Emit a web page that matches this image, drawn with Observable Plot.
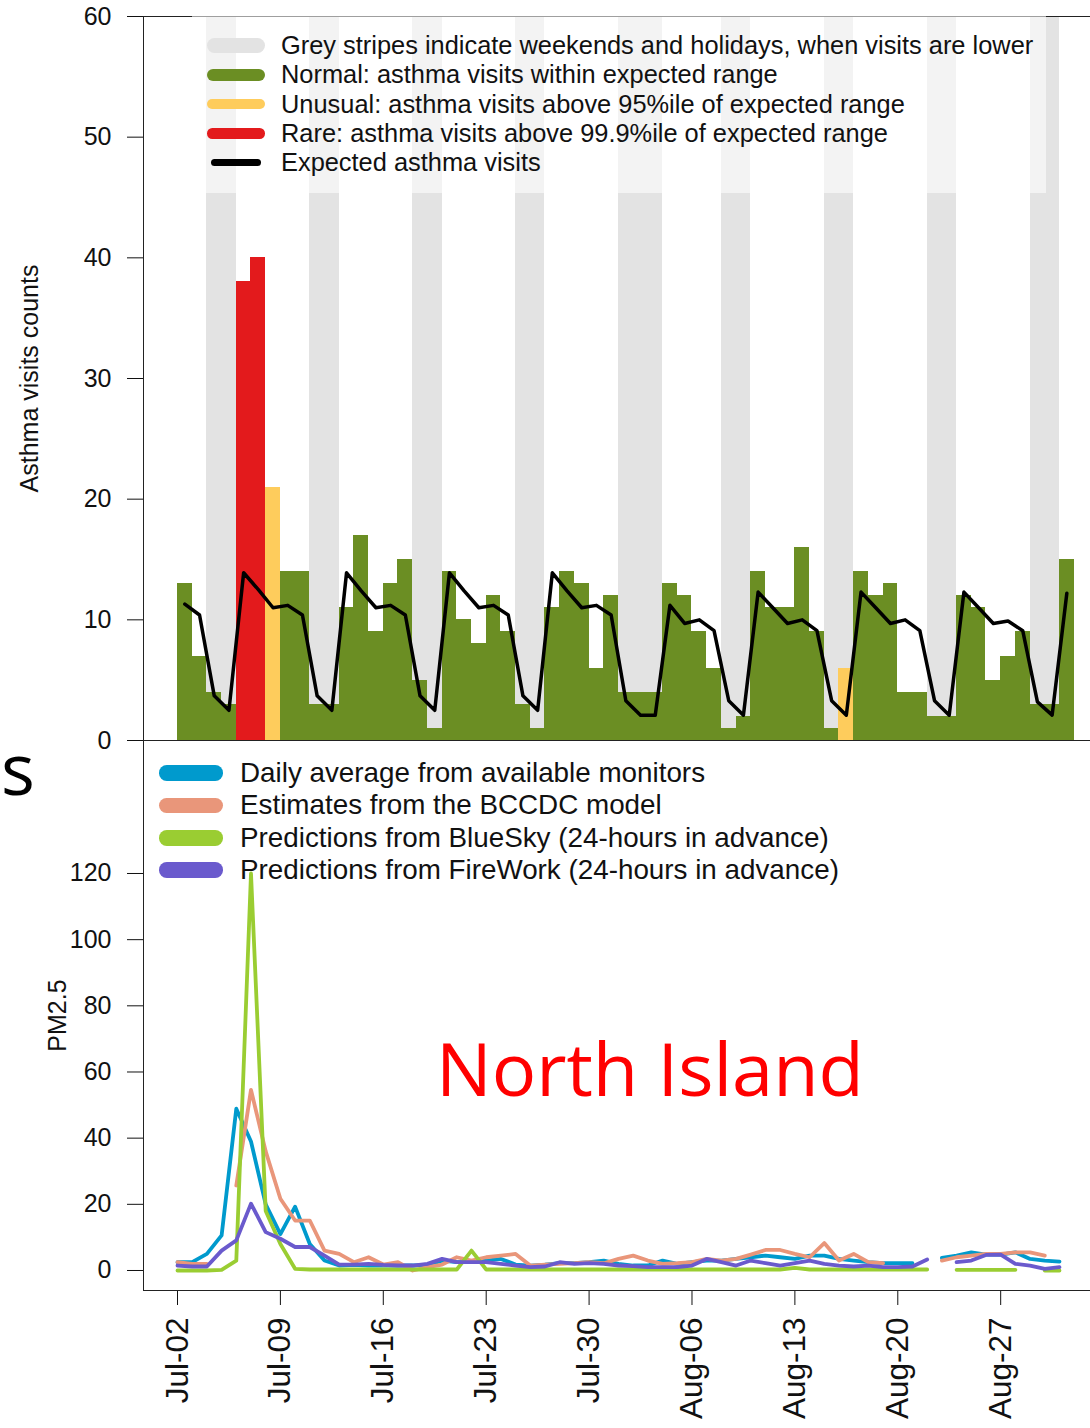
<!DOCTYPE html>
<html><head><meta charset="utf-8">
<script src="https://cdn.jsdelivr.net/npm/d3@7"></script>
<script src="https://cdn.jsdelivr.net/npm/@observablehq/plot@0.6"></script>
<style>
body{margin:0;background:#fff;overflow:hidden}
#wrap{position:relative;width:1090px;height:1428px;overflow:hidden;font-family:"Liberation Sans",Arial,Helvetica,sans-serif;color:#111;background:#fff}
.panel{position:absolute;left:0}
.legbox{position:absolute;left:192px;top:14px;width:854px;height:179px;background:rgba(255,255,255,0.57)}
.row{position:absolute;display:flex;align-items:center;white-space:nowrap;color:#111}
.sw{position:absolute}
</style></head><body>
<div id="wrap"></div>
<script>
// ---------------- DATA ----------------
const greyDays = ["2015-07-04","2015-07-05","2015-07-11","2015-07-12","2015-07-18","2015-07-19",
  "2015-07-25","2015-07-26","2015-08-01","2015-08-02","2015-08-03","2015-08-08","2015-08-09",
  "2015-08-15","2015-08-16","2015-08-22","2015-08-23","2015-08-29","2015-08-30"];

// asthma visit counts, Jul-02 .. Aug-31 (one per day)
const visits = [13,7,4,3,38,40,21, 14,14,3,3,11,17,9, 13,15,5,1,14,10,8, 12,9,3,1,11,14,13,
  6,12,4,4,4,13,12, 9,6,1,2,14,11,11, 16,9,1,6,14,12,13, 4,4,2,2,12,11,5, 7,9,3,3,15];
// N = normal, U = unusual, R = rare
const visitClass = ["N","N","N","N","R","R","U", "N","N","N","N","N","N","N", "N","N","N","N","N","N","N",
  "N","N","N","N","N","N","N", "N","N","N","N","N","N","N", "N","N","N","N","N","N","N",
  "N","N","N","U","N","N","N", "N","N","N","N","N","N","N", "N","N","N","N","N"];
const expected = [11.3,10.4,3.7,2.5,13.9,12.5,11.0, 11.2,10.4,3.7,2.5,13.9,12.4,11.0,
  11.2,10.4,3.7,2.5,13.9,12.4,11.0, 11.2,10.4,3.7,2.5,13.9,12.4,11.0,
  11.2,10.4,3.3,2.1,2.1,11.2,9.7, 10.0,9.1,3.3,2.1,12.3,11.0,9.7,
  10.0,9.1,3.3,2.1,12.3,11.0,9.7, 10.0,9.1,3.3,2.1,12.3,11.0,9.7, 9.9,9.1,3.2,2.1,12.2];

// PM2.5 series
const pmMonitors = [2.5,2.5,5.0,10.6,48.9,39,20, 11,19.3,8,3,1.5,1.7,1.5, 1.5,1.5,1.5,1.7,3.0,2.5,2.5,
  3.0,3.5,1.8,1.5,1.8,2.2,2.2, 2.5,3.0,2.0,1.5,1.5,3.0,2.0, 2.5,3.0,3.0,3.5,4.0,4.5,4.0,
  3.5,4.5,4.5,3.5,3.0,2.5,2.2, 2.2,2.2,null,3.8,4.5,5.5,4.8, 4.8,5.5,3.5,3.0,2.7];
const pmBCCDC = [2.5,2.0,2.0,null,25.7,54.6,36, 21.7,15.1,15.1,6.0,5.0,2.5,4.0, 1.8,2.5,0,1.0,1.8,4.0,3.0,
  4.0,4.5,5.0,1.5,1.8,2.0,2.2, 2.5,2.2,3.5,4.5,3.0,2.0,2.2, 2.5,3.5,3.0,3.5,4.8,6.2,6.2,
  5.0,4.0,8.3,3.0,5.0,2.5,2.2, null,null,null,3.0,4.0,4.5,5.0, 5.0,5.5,5.5,4.5,null];
const pmBlueSky = [0,0,0,0.2,3.0,120,18, 8,0.5,0.3,0.3,0.3,0.3,0.3, 0.3,0.3,0.3,0.3,0.3,0.3,6.0,
  0.3,0.3,0.3,0.3,0.3,0.3,0.3, 0.3,0.3,0.3,0.3,0.3,0.3,0.3, 0.3,0.3,0.3,0.3,0.3,0.3,0.3,
  0.8,0.3,0.3,0.3,0.3,0.3,0.3, 0.3,0.3,0.3,null,0.2,0.2,0.2, 0.2,0.2,null,0,0];
const pmFireWork = [1.5,1.2,1.2,6.0,9.1,20.2,11.6, 9.6,7.1,7.1,4.5,1.8,1.8,2.0, 1.7,1.5,1.5,2.0,3.5,2.5,2.5,
  2.5,2.0,1.5,1.0,1.2,2.5,2.0, 2.2,2.0,1.5,1.3,1.0,1.0,1.0, 1.5,3.5,2.5,1.5,3.0,2.2,1.5,
  2.2,3.0,2.0,1.5,1.2,1.5,1.0, 1.0,1.2,3.3,null,2.5,3.0,4.7, 4.8,2.0,1.5,0.5,1.0];

const tickDates = ["2015-07-02","2015-07-09","2015-07-16","2015-07-23","2015-07-30",
  "2015-08-06","2015-08-13","2015-08-20","2015-08-27"];
const yTicksTop = [0,10,20,30,40,50,60];
const yTicksBottom = [0,20,40,60,80,100,120];

const topLegendLabels = ["Grey stripes indicate weekends and holidays, when visits are lower",
  "Normal: asthma visits within expected range",
  "Unusual: asthma visits above 95%ile of expected range",
  "Rare: asthma visits above 99.9%ile of expected range",
  "Expected asthma visits"];
const topLegendColors = ["#e3e3e3","#6b8e23","#fecc5c","#e31a1c","#000000"];
const seriesNames = ["Daily average from available monitors","Estimates from the BCCDC model",
  "Predictions from BlueSky (24-hours in advance)","Predictions from FireWork (24-hours in advance)"];
const seriesColors = ["#009acd","#e9967a","#9acd32","#6a5acd"];
const classNames = {N:"Normal", U:"Unusual", R:"Rare"};

// ---------------- BUILD ----------------
const wrap = document.getElementById("wrap");
const DAY = 864e5;
const start = new Date(Date.UTC(2015,6,2));
const dates = d3.utcDay.range(start, new Date(Date.UTC(2015,8,1)));
const xDomain = [new Date(+start - 2.313*DAY), new Date(+start + 62.11*DAY)];
const fontFamily = '"Liberation Sans", Arial, Helvetica, sans-serif';
const parseDay = s => new Date(s + "T00:00:00Z");

const visitRows = dates.map((d,i)=>({date:d, next:new Date(+d+DAY), value:visits[i], cls:classNames[visitClass[i]]}));
const expRows = dates.map((d,i)=>({mid:new Date(+d+DAY/2), value:expected[i]}));
const stripeRows = greyDays.map(s=>{const d=parseDay(s); return {d, e:new Date(+d+DAY)};});

const topPlot = Plot.plot({
  width:1090, height:741, marginLeft:143, marginRight:0, marginTop:16, marginBottom:1,
  style:{background:"transparent", fontFamily, fontSize:"25px", color:"#111", overflow:"visible"},
  x:{type:"utc", domain:xDomain, axis:null},
  y:{domain:[0,60]},
  color:{domain:["Normal","Unusual","Rare"], range:["#6b8e23","#fecc5c","#e31a1c"]},
  marks:[
    Plot.rect(stripeRows,{x1:"d", x2:"e", fill:"#e3e3e3", shapeRendering:"crispEdges"}),
    Plot.rectY(visitRows,{x1:"date", x2:"next", y:"value", fill:"cls", shapeRendering:"crispEdges"}),
    Plot.line(expRows,{x:"mid", y:"value", stroke:"#000", strokeWidth:3.5}),
    Plot.axisY({ticks:yTicksTop, tickSize:16, tickPadding:16, label:"Asthma visits counts",
      labelAnchor:"center", labelOffset:123, labelArrow:"none"}),
    Plot.frame({stroke:"#222"})
  ]
});
topPlot.classList.add("panel");
topPlot.style.top = "0px";
wrap.appendChild(topPlot);

// top legend (semi-transparent box)
const box = document.createElement("div"); box.className = "legbox"; wrap.appendChild(box);
const topThick = [15.5,12.5,10.5,10.5,7.5];
topLegendLabels.forEach((lab,i)=>{
  const cy = 45.5 + i*29.3;
  const sw = document.createElement("div"); sw.className="sw";
  const w = i===4 ? 50 : 58, x = i===4 ? 211 : 207;
  Object.assign(sw.style,{left:x+"px", top:(cy-topThick[i]/2)+"px", width:w+"px", height:topThick[i]+"px",
    background:topLegendColors[i], borderRadius:(topThick[i]/2)+"px"});
  wrap.appendChild(sw);
  const t = document.createElement("div"); t.className="row"; t.textContent = lab;
  Object.assign(t.style,{left:"281px", top:(cy-15)+"px", height:"30px", fontSize:"25.4px"});
  wrap.appendChild(t);
});

// bottom plot
const pmAll = [pmMonitors, pmBCCDC, pmBlueSky, pmFireWork];
const pmRows = pmAll.flatMap((arr,k)=>dates.map((d,i)=>({date:d, value:arr[i], series:seriesNames[k]})));
const bottomPlot = Plot.plot({
  width:1090, height:688, marginLeft:143, marginRight:0, marginTop:0, marginBottom:138,
  style:{background:"transparent", fontFamily, fontSize:"25px", color:"#111", overflow:"visible"},
  x:{type:"utc", domain:xDomain},
  y:{domain:[-6.05,160.2]},
  color:{domain:seriesNames, range:seriesColors},
  marks:[
    Plot.line(pmRows,{x:"date", y:"value", z:"series", stroke:"series", strokeWidth:3.8}),
    Plot.axisX({ticks:tickDates.map(parseDay), tickFormat:d3.utcFormat("%b-%d"), tickRotate:-90,
      tickSize:15, tickPadding:12, fontSize:31.5, label:null}),
    Plot.axisY({ticks:yTicksBottom, tickSize:16, tickPadding:16, label:"PM2.5",
      labelAnchor:"center", labelOffset:95, labelArrow:"none"}),
    Plot.frame({stroke:"#222"})
  ]
});
bottomPlot.classList.add("panel");
bottomPlot.style.top = "740px";
wrap.appendChild(bottomPlot);

// bottom legend
seriesNames.forEach((lab,i)=>{
  const cy = 773 + i*32.4;
  const sw = document.createElement("div"); sw.className="sw";
  Object.assign(sw.style,{left:"159px", top:(cy-7.75)+"px", width:"64px", height:"15.5px",
    background:seriesColors[i], borderRadius:"7.75px"});
  wrap.appendChild(sw);
  const t = document.createElement("div"); t.className="row"; t.textContent = lab;
  Object.assign(t.style,{left:"240px", top:(cy-16)+"px", height:"32px", fontSize:"27.8px"});
  wrap.appendChild(t);
});

// slide annotations
const ns = "http://www.w3.org/2000/svg";
const ov = document.createElementNS(ns,"svg");
ov.setAttribute("width",1090); ov.setAttribute("height",1428);
Object.assign(ov.style,{position:"absolute",left:"0",top:"0",pointerEvents:"none"});
const t1 = document.createElementNS(ns,"text");
t1.setAttribute("x",436); t1.setAttribute("y",1096);
t1.setAttribute("font-family","'Open Sans', sans-serif"); t1.setAttribute("font-size",74);
t1.setAttribute("fill","#ff0000"); t1.textContent = "North Island";
ov.appendChild(t1);
const t2 = document.createElementNS(ns,"text");
t2.setAttribute("x",1); t2.setAttribute("y",795);
t2.setAttribute("font-family","'Open Sans', sans-serif"); t2.setAttribute("font-size",71);
t2.setAttribute("fill","#000"); t2.textContent = "s";
ov.appendChild(t2);
wrap.appendChild(ov);
</script></body></html>
